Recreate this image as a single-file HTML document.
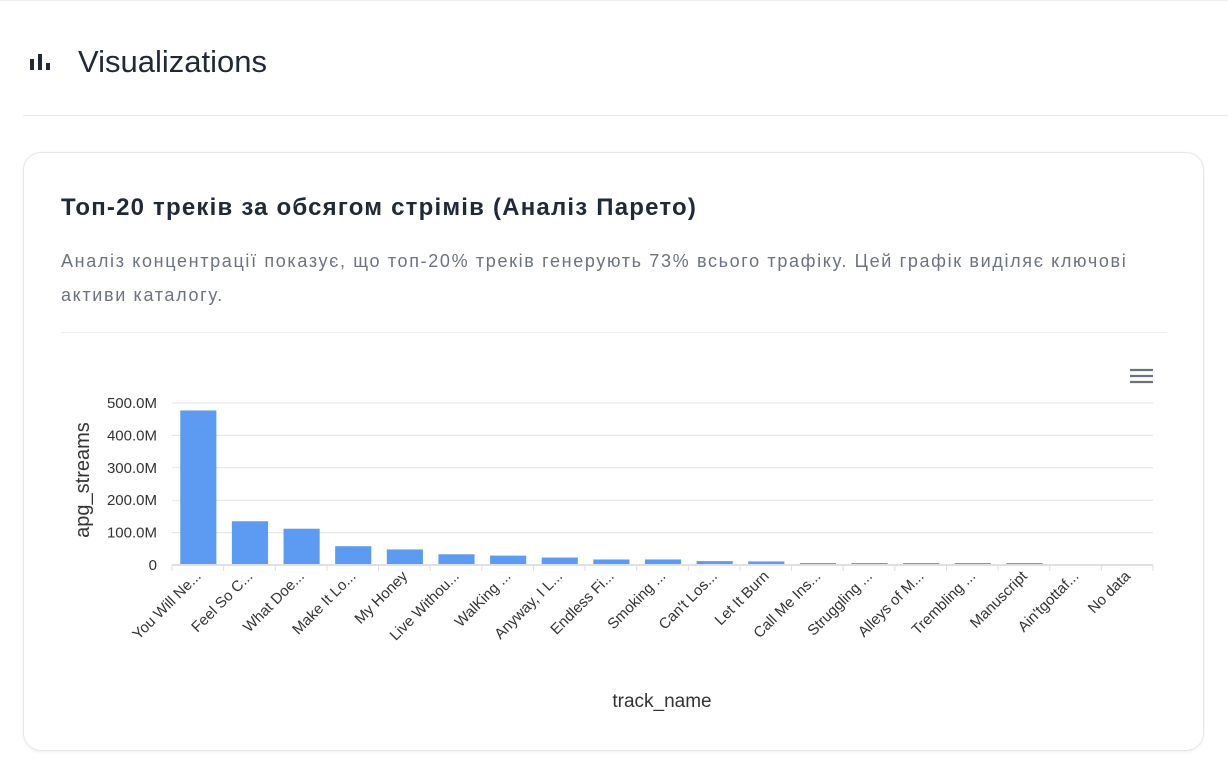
<!DOCTYPE html>
<html><head><meta charset="utf-8">
<style>
body{margin:0;width:1228px;height:778px;background:#fff;font-family:"Liberation Sans","Noto Sans CJK SC",sans-serif;overflow:hidden;position:relative}
.topline{position:absolute;left:0;top:0;width:1228px;height:1px;background:#eceef1}
.hdr{position:absolute;left:28px;top:44px;display:flex;align-items:center}
.hdr h1{margin:0 0 0 26px;font-size:31px;font-weight:500;color:#1f2937}
.sep{position:absolute;left:23px;top:115px;width:1205px;height:1px;background:#e5e7eb}
.card{position:absolute;left:23px;top:152px;width:1179px;height:597px;border:1px solid #e5e7eb;border-radius:18px;box-shadow:0 1px 3px rgba(0,0,0,.06)}
.title{position:absolute;left:61px;top:194px;font-size:24px;letter-spacing:1.2px;font-weight:600;color:#1f2937}
.desc{position:absolute;left:61px;top:244px;width:1100px;font-size:18px;letter-spacing:1.65px;line-height:34px;color:#6b7280}
.csep{position:absolute;left:61px;top:332px;width:1106px;height:1px;background:#eef0f2}
</style></head><body>
<div class="topline"></div>
<div class="hdr">
<svg width="24" height="20"><rect x="2" y="7" width="4" height="11" fill="#1f2937"/><rect x="10" y="2" width="4" height="16" fill="#1f2937"/><rect x="18" y="11" width="4" height="7" fill="#1f2937"/></svg>
<h1>Visualizations</h1></div>
<div class="sep"></div>
<div class="card"></div>
<div class="title">Топ-20 треків за обсягом стрімів (Аналіз Парето)</div>
<div class="desc">Аналіз концентрації показує, що топ-20% треків генерують 73% всього трафіку. Цей графік виділяє ключові активи каталогу.</div>
<div class="csep"></div>
<svg id="chart" width="1228" height="778" style="position:absolute;left:0;top:0">
<g stroke="#6b7280" stroke-width="2.2"><line x1="1130" y1="370" x2="1153" y2="370"/><line x1="1130" y1="376" x2="1153" y2="376"/><line x1="1130" y1="382" x2="1153" y2="382"/></g>
</svg>
<script>
const categories=["You Will Ne...","Feel So C...","What Doe...","Make It Lo...","My Honey","Live Withou...","WalKing ...","Anyway, I L...","Endless Fi...","Smoking ...","Can't Los...","Let It Burn","Call Me Ins...","Struggling ...","Alleys of M...","Trembling ...","Manuscript","Ain'tgottaf...","No data"];
const values=[477,135,112,58,48,33,29,23,17,17,12,11,6,6,6,4,2,0,0];
const yTicks=[0,100,200,300,400,500];
const yTickLabels=["0","100.0M","200.0M","300.0M","400.0M","500.0M"];
const svg=document.getElementById('chart');
const NS="http://www.w3.org/2000/svg";
const L=172,R=1153,T=403,B=565,MAX=500;
const y=v=>B-(v/MAX)*(B-T);
const bw=(R-L)/categories.length;
const x=i=>L+i*bw;
function mk(t,a){const e=document.createElementNS(NS,t);for(const k in a)e.setAttribute(k,a[k]);svg.appendChild(e);return e;}
yTicks.forEach((v,i)=>{
 const g=mk('line',{x1:L,x2:R,y1:y(v),y2:y(v),stroke:'#e3e3e3','stroke-width':1});
 
 
 const t=mk('text',{x:157,y:y(v)+5,'text-anchor':'end','font-size':15,fill:'#333','font-family':'Liberation Sans,sans-serif'});
 t.textContent=yTickLabels[i];
 
 
});
categories.forEach((c,i)=>{
 const h=Math.max(B-y(values[i]),values[i]>0?2:0);
 const r=mk('rect',{x:x(i)+bw*0.16,y:B-h,width:bw*0.7,height:h,fill:'#4a90f0','fill-opacity':0.9});
 
 
 const tk=mk('line',{x1:x(i),x2:x(i),y1:B,y2:B+6,stroke:'#ddd'});
 
 
 const cx=x(i)+bw*0.5+4,cy=B+12;
 const t=mk('text',{x:cx,y:cy,'text-anchor':'end','font-size':15,fill:'#333','font-family':'Liberation Sans,sans-serif',transform:`rotate(-45 ${cx} ${cy})`});
 t.textContent=c;
 
 
});
const tl=mk('line',{x1:R,x2:R,y1:B,y2:B+6,stroke:'#ddd'});


const ax=mk('line',{x1:L,x2:R,y1:B,y2:B,stroke:'#e0e0e0','stroke-width':2});


const yt=mk('text',{x:89,y:480,'text-anchor':'middle','font-size':20,fill:'#333','font-family':'Liberation Sans,sans-serif',transform:'rotate(-90 89 480)'});
yt.textContent='apg_streams';


const xt=mk('text',{x:662,y:707,'text-anchor':'middle','font-size':19,fill:'#333','font-family':'Liberation Sans,sans-serif'});
xt.textContent='track_name';


</script>
</body></html>
